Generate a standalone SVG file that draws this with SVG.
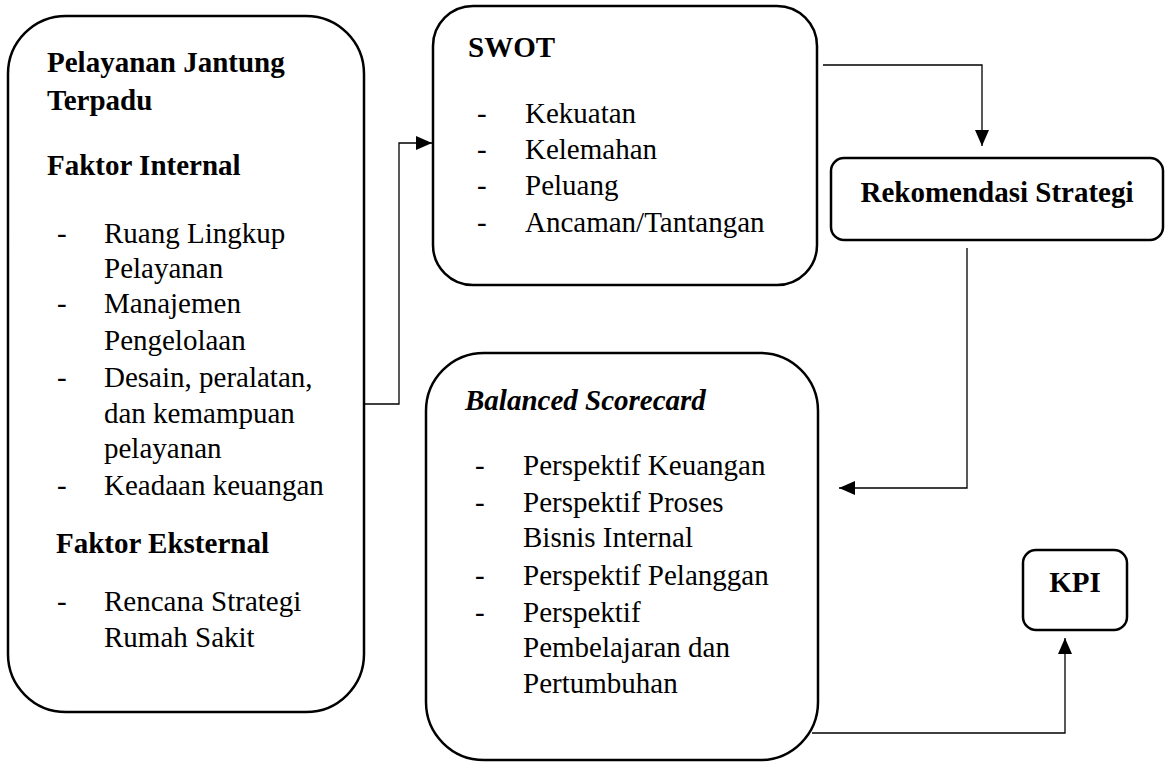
<svg xmlns="http://www.w3.org/2000/svg" width="1169" height="762" viewBox="0 0 1169 762">
<style>
.box{fill:#fff;stroke:#000;stroke-width:2.5}
.conn{fill:none;stroke:#000;stroke-width:1.3}
.t{font-family:'Liberation Serif','Times New Roman',Tinos,'DejaVu Serif',serif;font-size:29px;fill:#000}
.b{font-weight:bold}
.bi{font-weight:bold;font-style:italic}
</style>
<defs>
<marker id="ah" markerUnits="userSpaceOnUse" markerWidth="16" markerHeight="14" refX="16" refY="7" orient="auto">
<path d="M0,0 L16,7 L0,14 z" fill="#000"/>
</marker>
</defs>
<rect width="1169" height="762" fill="#fff"/>
<g id="connectors">
<path class="conn" d="M364,404 H399 V143 H432" marker-end="url(#ah)"/>
<path class="conn" d="M823,65 H982 V146" marker-end="url(#ah)"/>
<path class="conn" d="M967,248 V488 H839" marker-end="url(#ah)"/>
<path class="conn" d="M812,733 H1065 V638" marker-end="url(#ah)"/>
</g>
<g id="node-pelayanan" class="t" font-family="Liberation Serif, Times New Roman, serif">
<rect class="box" x="8" y="16" width="356" height="696" rx="58" ry="58"/>
<text class="b" x="47" y="72">Pelayanan Jantung</text>
<text class="b" x="47" y="110">Terpadu</text>
<text class="b" x="47" y="175">Faktor Internal</text>
<text x="57" y="243">-</text><text x="104" y="243">Ruang Lingkup</text>
<text x="104" y="278">Pelayanan</text>
<text x="57" y="313">-</text><text x="104" y="313">Manajemen</text>
<text x="104" y="350">Pengelolaan</text>
<text x="57" y="387">-</text><text x="104" y="387">Desain, peralatan,</text>
<text x="104" y="423">dan kemampuan</text>
<text x="104" y="458">pelayanan</text>
<text x="57" y="495">-</text><text x="104" y="495">Keadaan keuangan</text>
<text class="b" x="56" y="553">Faktor Eksternal</text>
<text x="57" y="611">-</text><text x="104" y="611">Rencana Strategi</text>
<text x="104" y="647">Rumah Sakit</text>
</g>
<g id="node-swot" class="t">
<rect class="box" x="433" y="6" width="384" height="279" rx="40" ry="40"/>
<text class="b" x="468" y="57">SWOT</text>
<text x="477" y="123">-</text><text x="525" y="123">Kekuatan</text>
<text x="477" y="159">-</text><text x="525" y="159">Kelemahan</text>
<text x="477" y="195">-</text><text x="525" y="195">Peluang</text>
<text x="477" y="232">-</text><text x="525" y="232">Ancaman/Tantangan</text>
</g>
<g id="node-rekomendasi" class="t">
<rect class="box" x="831" y="158" width="332" height="82" rx="13" ry="13"/>
<text class="b" x="997" y="202" text-anchor="middle">Rekomendasi Strategi</text>
</g>
<g id="node-bsc" class="t">
<rect class="box" x="426" y="353" width="392" height="407" rx="58" ry="58"/>
<text class="bi" x="465" y="410">Balanced Scorecard</text>
<text x="475" y="475">-</text><text x="523" y="475">Perspektif Keuangan</text>
<text x="475" y="512">-</text><text x="523" y="512">Perspektif Proses</text>
<text x="523" y="547">Bisnis Internal</text>
<text x="475" y="585">-</text><text x="523" y="585">Perspektif Pelanggan</text>
<text x="475" y="622">-</text><text x="523" y="622">Perspektif</text>
<text x="523" y="657">Pembelajaran dan</text>
<text x="523" y="693">Pertumbuhan</text>
</g>
<g id="node-kpi" class="t">
<rect class="box" x="1023" y="550" width="104" height="80" rx="13" ry="13"/>
<text class="b" x="1075" y="592" text-anchor="middle">KPI</text>
</g>
</svg>
